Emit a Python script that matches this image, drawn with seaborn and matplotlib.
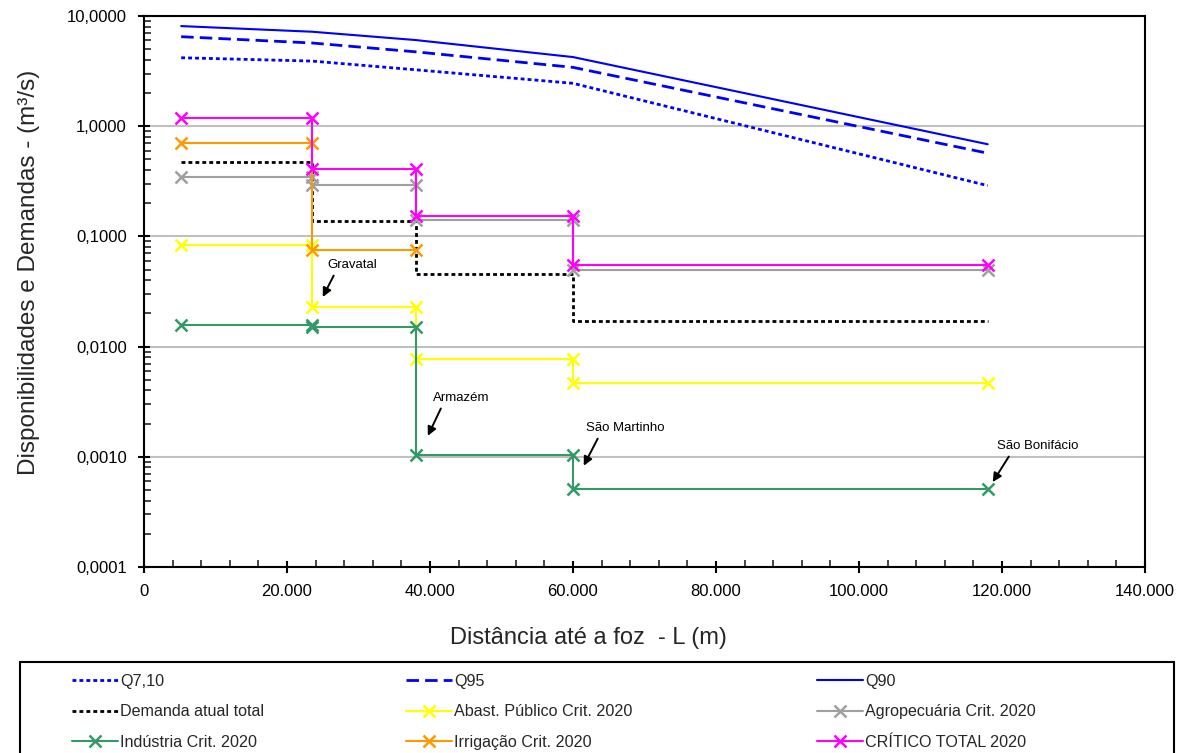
import matplotlib
matplotlib.use("Agg")
import matplotlib.pyplot as plt
import matplotlib.ticker as mticker
import matplotlib.patches as mpatches
import numpy as np
import pandas as pd
import seaborn as sns

# ---------------- data ----------------
nodes = [5200, 23500, 38000, 60000, 118000]          # distance to river mouth (m)
q710 = [4.18, 3.90, 3.25, 2.45, 0.289]
q95 = [6.49, 5.69, 4.73, 3.42, 0.569]
q90 = [8.10, 7.20, 6.05, 4.24, 0.686]

# critical demands per reach (reach i spans nodes[i] -> nodes[i+1])
demanda_atual = [0.473, 0.137, 0.0458, 0.0170]
abast_publico = [0.0840, 0.0230, 0.00778, 0.00468]
agropecuaria = [0.346, 0.295, 0.140, 0.0498]
industria = [0.0157, 0.0150, 0.00104, 0.000508]
irrigacao = [0.711, 0.0746]
critico_total = [1.175, 0.410, 0.152, 0.0545]

y_ticks = [0.0001, 0.001, 0.01, 0.1, 1, 10]
x_ticks = [0, 20000, 40000, 60000, 80000, 100000, 120000, 140000]


def steps(values):
    xs, ys = [], []
    for i, v in enumerate(values):
        xs += [nodes[i], nodes[i + 1]]
        ys += [v, v]
    return xs, ys


# ---------------- style ----------------
sns.set_theme(style="white")
plt.rcParams["font.family"] = ["Liberation Sans", "DejaVu Sans"]
plt.rcParams["axes.unicode_minus"] = False

fig = plt.figure(figsize=(11.89, 7.53), dpi=100)
ax = fig.add_axes([144 / 1189, 1 - 567 / 753, 1001 / 1189, 551 / 753])
ax.set_yscale("log")

LW = 1.5
dot = (0, (1.4, 1.1))
dash = (0, (4.5, 2.2))

series = []

def draw(xs, ys, label, color, ls="-", marker=None):
    sns.lineplot(x=xs, y=ys, ax=ax, sort=False, estimator=None, color=color,
                 linestyle=ls, linewidth=LW if ls == "-" else 2.0,
                 marker=marker, markersize=8, markeredgewidth=1.8,
                 markeredgecolor=color, label=label, legend=False)
    series.append(ax.lines[-1])

draw(nodes, q710, "Q7,10", "#0000FF", dot)
draw(nodes, q95, "Q95", "#0000FF", dash)
draw(nodes, q90, "Q90", "#0000FF", "-")
draw(*steps(demanda_atual), "Demanda atual total", "#000000", dot)
draw(*steps(abast_publico), "Abast. Público Crit. 2020", "#FFFF00", "-", "x")
draw(*steps(agropecuaria), "Agropecuária Crit. 2020", "#A0A0A0", "-", "x")
draw(*steps(industria), "Indústria Crit. 2020", "#339966", "-", "x")
draw(*steps(irrigacao), "Irrigação Crit. 2020", "#FF9900", "-", "x")
draw(*steps(critico_total), "CRÍTICO TOTAL 2020", "#FF00FF", "-", "x")

# ---------------- axes ----------------
ax.set_xlim(0, 140000)
ax.set_ylim(0.0001, 10)
ax.xaxis.set_major_locator(mticker.FixedLocator(x_ticks))
ax.xaxis.set_minor_locator(mticker.MultipleLocator(4000))
ax.xaxis.set_major_formatter(mticker.FuncFormatter(
    lambda v, p: "0" if v == 0 else f"{int(round(v)):,}".replace(",", ".")))
ax.yaxis.set_major_locator(mticker.FixedLocator(y_ticks))
ax.yaxis.set_minor_locator(mticker.LogLocator(base=10, subs=np.arange(2, 10)))
ax.yaxis.set_minor_formatter(mticker.NullFormatter())
ax.yaxis.set_major_formatter(mticker.FuncFormatter(
    lambda v, p: f"{v:.4f}".replace(".", ",")))

ax.tick_params(axis="both", which="major", direction="inout", length=9, width=1.5,
               labelsize=12, colors="black", pad=8, left=True, bottom=True)
ax.tick_params(axis="both", which="minor", direction="in", length=5, width=1.2,
               left=True, bottom=True)
ax.grid(False)
ax.yaxis.grid(True, which="major", color="#C0C0C0", linewidth=1.5)
ax.set_axisbelow(True)
for s in ax.spines.values():
    s.set_visible(True)
    s.set_color("black")
    s.set_linewidth(1.5)

ax.set_xlabel("Distância até a foz  - L (m)", fontsize=17, labelpad=20, x=0.444)
ax.set_ylabel("Disponibilidades e Demandas - (m³/s)", fontsize=17.5, labelpad=19,
              y=0.534)

# ---------------- annotations ----------------
arrow = dict(arrowstyle="-|>", color="black", lw=1.4, mutation_scale=13,
             relpos=(0.18, 0.0), shrinkA=1, shrinkB=0)
for txt, tip, pos in [("Gravatal", (25000, 0.0282), (25600, 0.0549)),
                      ("Armazém", (39700, 0.00155), (40400, 0.00342)),
                      ("São Martinho", (61500, 0.00083), (61800, 0.00182)),
                      ("São Bonifácio", (118700, 0.00059), (119300, 0.00125))]:
    ax.annotate(txt, xy=tip, xytext=pos, ha="left", va="center", fontsize=9.5,
                color="black", arrowprops=arrow)

# ---------------- legend ----------------
frame = mpatches.Rectangle((20 / 1189, -0.02), 1154 / 1189, 0.1209 + 0.02,
                           transform=fig.transFigure, fill=False, edgecolor="black",
                           linewidth=1.5, clip_on=False)
fig.add_artist(frame)

cols = [[0, 3, 6], [1, 4, 7], [2, 5, 8]]
col_x = [72, 406, 817]
for cx, idx in zip(col_x, cols):
    hs = [series[i] for i in idx]
    fig.legend(handles=hs, labels=[h.get_label() for h in hs],
               loc="upper left", bbox_to_anchor=(cx / 1189, 1 - 674 / 753),
               bbox_transform=fig.transFigure, frameon=False, fontsize=11.6,
               borderpad=0, borderaxespad=0, handlelength=2.85,
               handletextpad=0.15, labelspacing=0.95)

fig.savefig("out.png", dpi=100, facecolor="white")
